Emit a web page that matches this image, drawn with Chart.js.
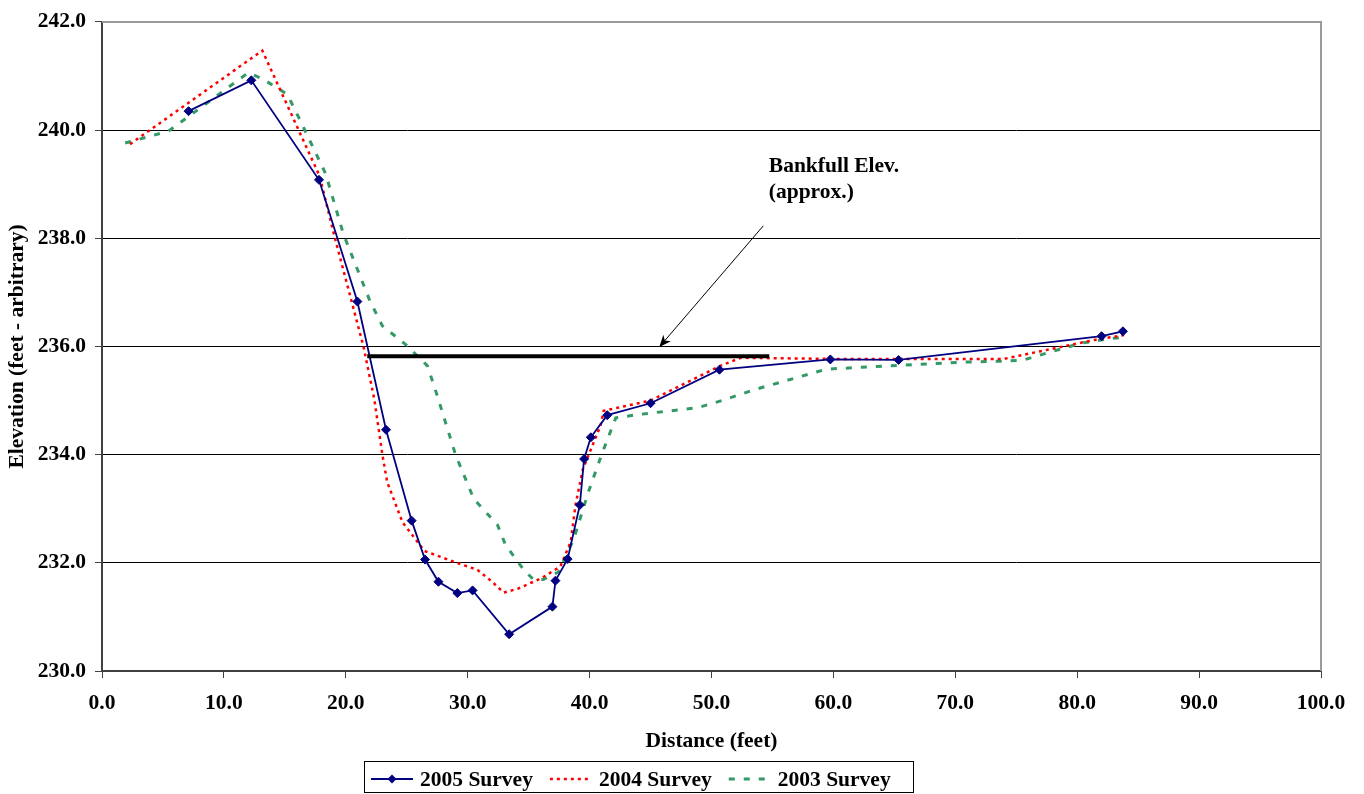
<!DOCTYPE html>
<html>
<head>
<meta charset="utf-8">
<script src="https://cdn.jsdelivr.net/npm/chart.js@4.4.0/dist/chart.umd.min.js"></script>
<style>
  html, body { margin: 0; padding: 0; background: #fff; }
  #wrap { width: 1364px; height: 794px; }
</style>
</head>
<body>
<div id="wrap"><canvas id="grafico" width="1364" height="794"></canvas></div>
<script>
const FONT = "'Liberation Serif', 'Times New Roman', serif";
const FSIZE = 21.5;

// 2005 survey (surveyed points, with markers)
const dist2005 = [7.1, 12.25, 17.8, 20.95, 23.3, 25.4, 26.5, 27.6, 29.15, 30.4, 33.4, 36.95,
  37.2, 38.2, 39.2, 39.55, 40.1, 41.45, 45.0, 50.65, 59.75, 65.35, 82.0, 83.75];
const elev2005 = [240.35, 240.92, 239.08, 236.83, 234.46, 232.78, 232.06, 231.65, 231.44, 231.49, 230.68, 231.19,
  231.67, 232.07, 233.07, 233.92, 234.32, 234.73, 234.95, 235.57, 235.76, 235.75, 236.19, 236.28];

// 2004 survey
const dist2004 = [2.3, 13.15, 17.85, 19.1, 21.45, 22.35, 23.0, 23.4, 24.65, 26.45, 28.85, 30.8, 32.0,
  32.95, 34.1, 36.0, 37.6, 38.45, 38.85, 39.45, 40.9, 41.15, 45.0, 50.7, 52.4, 60.0, 74.0, 81.4, 83.85];
const elev2004 = [239.74, 241.47, 239.15, 238.01, 236.0, 235.01, 234.0, 233.49, 232.75, 232.22, 232.02, 231.87, 231.65,
  231.45, 231.52, 231.71, 231.93, 232.39, 233.08, 233.73, 234.54, 234.81, 235.0, 235.64, 235.79, 235.77, 235.77, 236.12, 236.21];

// 2003 survey
const dist2003 = [1.9, 5.45, 12.0, 13.15, 15.2, 16.3, 18.35, 19.8, 22.0, 23.0, 25.05, 26.7, 27.5, 29.0,
  30.5, 32.45, 33.1, 34.6, 35.4, 36.2, 37.45, 38.7, 39.9, 41.05, 42.15, 43.95, 48.9, 51.0, 53.5,
  56.3, 59.4, 64.5, 70.5, 74.3, 75.6, 77.85, 80.3, 82.55, 83.75];
const elev2003 = [239.76, 239.98, 241.06, 240.95, 240.66, 240.16, 239.19, 238.08, 236.83, 236.38, 236.01, 235.64, 235.09, 234.0,
  233.18, 232.7, 232.33, 231.87, 231.69, 231.69, 231.83, 232.44, 233.31, 234.04, 234.68, 234.74, 234.87, 235.01, 235.2,
  235.38, 235.58, 235.64, 235.71, 235.73, 235.75, 235.9, 236.06, 236.14, 236.17];

// bankfull line and its note
const bankfullDist = [21.76, 54.74];
const bankfullElev = [235.82, 235.82];
const arrowDist = [54.25, 45.72];
const arrowElev = [238.23, 235.99];
const noteLines = ['Bankfull Elev.', '(approx.)'];
const noteDist = 54.7;
const noteElev = [239.33, 238.85];

const xTicks = [0, 10, 20, 30, 40, 50, 60, 70, 80, 90, 100];
const yTicks = [230, 232, 234, 236, 238, 240, 242];
const seriesNames = ['2005 Survey', '2004 Survey', '2003 Survey'];

function pts(xs, ys) {
  return xs.map((x, i) => ({ x: x, y: ys[i] }));
}

const font = { family: FONT, size: FSIZE, weight: 'bold' };

// gray frame on top and right of the plot
const frame = {
  id: 'frame',
  beforeDatasetsDraw(chart) {
    const { ctx, chartArea: a } = chart;
    ctx.save();
    ctx.strokeStyle = '#9a9a9a';
    ctx.lineWidth = 2;
    ctx.beginPath();
    ctx.moveTo(a.left, a.top);
    ctx.lineTo(a.right, a.top);
    ctx.lineTo(a.right, a.bottom);
    ctx.stroke();
    ctx.restore();
  }
};

// arrow head + text note
const note = {
  id: 'note',
  afterDatasetsDraw(chart) {
    const { ctx, scales } = chart;
    const x0 = scales.x.getPixelForValue(arrowDist[0]);
    const y0 = scales.y.getPixelForValue(arrowElev[0]);
    const x1 = scales.x.getPixelForValue(arrowDist[1]);
    const y1 = scales.y.getPixelForValue(arrowElev[1]);
    const ang = Math.atan2(y1 - y0, x1 - x0);
    const len = 12, half = 5;
    ctx.save();
    ctx.fillStyle = '#000';
    ctx.beginPath();
    ctx.moveTo(x1, y1);
    ctx.lineTo(x1 - len * Math.cos(ang) + half * Math.sin(ang), y1 - len * Math.sin(ang) - half * Math.cos(ang));
    ctx.lineTo(x1 - len * 0.7 * Math.cos(ang), y1 - len * 0.7 * Math.sin(ang));
    ctx.lineTo(x1 - len * Math.cos(ang) - half * Math.sin(ang), y1 - len * Math.sin(ang) + half * Math.cos(ang));
    ctx.closePath();
    ctx.fill();

    ctx.font = 'bold ' + FSIZE + 'px ' + FONT;
    ctx.textAlign = 'left';
    ctx.textBaseline = 'middle';
    noteLines.forEach((t, i) => {
      ctx.fillText(t, scales.x.getPixelForValue(noteDist), scales.y.getPixelForValue(noteElev[i]));
    });
    ctx.restore();
  }
};

// boxed legend under the axis title
const legendBox = {
  id: 'legendBox',
  afterDraw(chart) {
    const { ctx } = chart;
    const box = { left: 364, top: 761, right: 913, bottom: 792 };
    const cy = 779;
    ctx.save();
    ctx.strokeStyle = '#000';
    ctx.lineWidth = 1;
    ctx.strokeRect(box.left + 0.5, box.top + 0.5, box.right - box.left, box.bottom - box.top);

    ctx.font = 'bold ' + FSIZE + 'px ' + FONT;
    ctx.textBaseline = 'middle';
    ctx.fillStyle = '#000';
    const styles = [
      { color: '#000080', width: 2, dash: [], marker: true },
      { color: '#ff0000', width: 2.5, dash: [3, 4], marker: false },
      { color: '#339966', width: 3, dash: [6, 9], marker: false }
    ];
    let x = box.left + 7;
    seriesNames.forEach((name, i) => {
      const s = styles[i];
      const sw = 42;
      ctx.strokeStyle = s.color;
      ctx.lineWidth = s.width;
      ctx.setLineDash(s.dash);
      ctx.beginPath();
      ctx.moveTo(x, cy);
      ctx.lineTo(x + sw, cy);
      ctx.stroke();
      ctx.setLineDash([]);
      if (s.marker) {
        const mx = x + sw / 2, r = 4.5;
        ctx.fillStyle = s.color;
        ctx.beginPath();
        ctx.moveTo(mx, cy - r);
        ctx.lineTo(mx + r, cy);
        ctx.lineTo(mx, cy + r);
        ctx.lineTo(mx - r, cy);
        ctx.closePath();
        ctx.fill();
      }
      x += sw + 7;
      ctx.fillStyle = '#000';
      ctx.fillText(name, x, cy + 1);
      x += ctx.measureText(name).width + 17;
    });
    ctx.restore();
  }
};

const ctx = document.getElementById('grafico').getContext('2d');

const chart = new Chart(ctx, {
  type: 'scatter',
  data: {
    datasets: [
      {
        label: 'Bankfull',
        data: pts(bankfullDist, bankfullElev),
        showLine: true,
        borderColor: '#000',
        borderWidth: 4,
        pointRadius: 0
      },
      {
        label: 'arrow',
        data: pts(arrowDist, arrowElev),
        showLine: true,
        borderColor: '#000',
        borderWidth: 1,
        pointRadius: 0
      },
      {
        label: seriesNames[0],
        data: pts(dist2005, elev2005),
        showLine: true,
        borderColor: '#000080',
        backgroundColor: '#000080',
        borderWidth: 1.8,
        pointStyle: 'rectRot',
        pointRadius: 4.5,
        pointBorderWidth: 1,
        tension: 0
      },
      {
        label: seriesNames[1],
        data: pts(dist2004, elev2004),
        showLine: true,
        borderColor: '#ff0000',
        borderWidth: 2.5,
        borderDash: [3, 4],
        pointRadius: 0,
        tension: 0
      },
      {
        label: seriesNames[2],
        data: pts(dist2003, elev2003),
        showLine: true,
        borderColor: '#339966',
        borderWidth: 3,
        borderDash: [6, 9],
        pointRadius: 0,
        tension: 0
      }
    ]
  },
  options: {
    responsive: false,
    animation: false,
    layout: { padding: { top: 16, right: 43, bottom: 0, left: 0 } },
    plugins: {
      legend: { display: false },
      tooltip: { enabled: false }
    },
    scales: {
      x: {
        type: 'linear',
        min: 0,
        max: 100,
        afterFit: s => { s.height = 123; },
        afterBuildTicks: s => { s.ticks = xTicks.map(v => ({ value: v })); },
        ticks: {
          callback: v => Number(v).toFixed(1),
          font: font,
          color: '#000',
          padding: 13,
          maxRotation: 0,
          autoSkip: false
        },
        grid: { drawOnChartArea: false, drawTicks: true, tickLength: 7, color: '#404040' },
        border: { color: '#404040', width: 2 },
        title: {
          display: true,
          text: 'Distance (feet)',
          font: font,
          color: '#000',
          padding: { top: 0, bottom: 40 }
        }
      },
      y: {
        type: 'linear',
        min: 230,
        max: 242,
        afterFit: s => { s.width = 102; },
        afterBuildTicks: s => { s.ticks = yTicks.map(v => ({ value: v })); },
        ticks: {
          callback: v => Number(v).toFixed(1),
          font: font,
          color: '#000',
          padding: 9,
          autoSkip: false
        },
        grid: { color: '#000', lineWidth: 1, tickLength: 7, tickColor: '#404040' },
        border: { color: '#404040', width: 2 },
        title: {
          display: true,
          text: 'Elevation (feet - arbitrary)',
          font: font,
          color: '#000',
          padding: { top: 5, bottom: 0 }
        }
      }
    }
  },
  plugins: [frame, note, legendBox]
});
</script>
</body>
</html>
